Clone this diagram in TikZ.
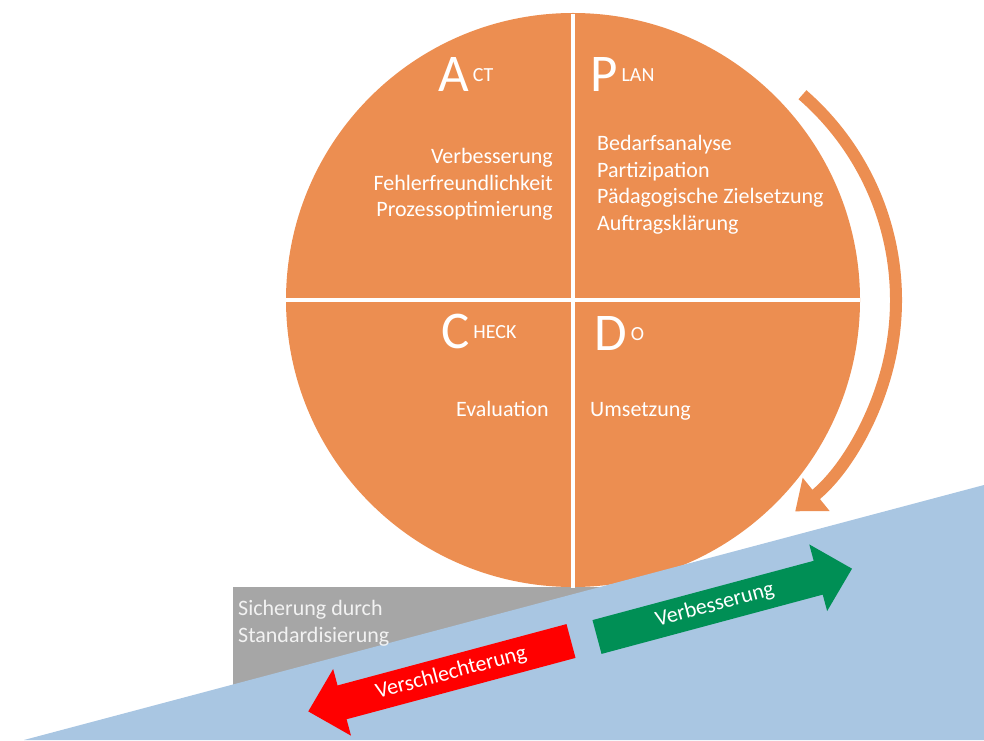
\documentclass[tikz,border=0pt]{standalone}
\usepackage{fontspec}
\setmainfont{Carlito}
\usetikzlibrary{arrows.meta}

\definecolor{pdcaorange}{RGB}{236,142,81}
\definecolor{pdcablue}{RGB}{169,198,226}
\definecolor{pdcagrey}{RGB}{166,166,166}
\definecolor{pdcalight}{RGB}{242,242,242}
\definecolor{pdcagreen}{RGB}{0,143,85}
\definecolor{pdcared}{RGB}{255,0,0}

\newcommand{\phasehead}[2]{{\fontsize{53}{53}\selectfont #1}\hspace{4pt}\raisebox{10pt}{\fontsize{20}{24}\selectfont #2}}

\begin{document}
\begin{tikzpicture}[x=1pt,y=1pt,
  head/.style={text=white,inner sep=0pt,anchor=base west},
  body/.style={text=white,inner sep=0pt,font=\fontsize{22}{26.5}\selectfont},
  divider/.style={white,line width=4pt},
  flowtext/.style={text=white,inner sep=0pt,font=\fontsize{22}{26}\selectfont,rotate=15}]
\useasboundingbox (0,0) rectangle (984,740);
% Sockel
\fill[pdcagrey] (233,40) rectangle (600,153);
% Kreis
\fill[pdcaorange] (573,440) circle (287);
\draw[divider] (573,726) -- (573,152);
\draw[divider] (286,440) -- (860,440);
% Ebene
\fill[pdcablue] (24,0) -- (984,255) -- (984,0) -- cycle;
\node[anchor=base west,text=pdcalight,inner sep=0pt,font=\fontsize{22}{26}\selectfont] (sicherung) at (238,125) {Sicherung durch};
\node[anchor=base west,text=pdcalight,inner sep=0pt,font=\fontsize{22}{26}\selectfont] (standard) at (238,98) {Standardisierung};
% Umlauf
\coordinate (cyclecenter) at (624,440);
\draw[pdcaorange,line width=12pt,-{Triangle[width=41pt,length=27pt]}] (cyclecenter) ++(49:272) arc[start angle=49,end angle=-51,radius=272];
% Phasen
\node[head] (act) at (438,648) {\phasehead{A}{CT}};
\node[head] (plan) at (590,648) {\phasehead{P}{LAN}};
\node[head] (check) at (441,392) {\phasehead{C}{HECK}};
\node[head] (do) at (594,390) {\phasehead{D}{O}};
\foreach \txt [count=\i] in {Verbesserung,Fehlerfreundlichkeit,Prozessoptimierung}
  \node[body,anchor=base east] (actitem\i) at (553,{576-26.5*(\i-1)}) {\txt};
\foreach \txt [count=\i] in {Bedarfsanalyse,Partizipation,Pädagogische Zielsetzung,Auftragsklärung}
  \node[body,anchor=base west] (planitem\i) at (597,{589-26.5*(\i-1)}) {\txt};
\node[body,anchor=base east] (checkitem) at (549,324) {Evaluation};
\node[body,anchor=base west] (doitem) at (590,324) {Umsetzung};
% Richtungspfeile
\begin{scope}[shift={(597,103)},rotate=15]
  \fill[pdcagreen] (0,17.5) -- (229,17.5) -- (229,34.5) -- (264,0) -- (229,-34.5) -- (229,-17.5) -- (0,-17.5) -- cycle;
  \node[flowtext] (besser) at (122,0) {Verbesserung};
\end{scope}
\begin{scope}[shift={(571,99)},rotate=195]
  \fill[pdcared] (0,17.5) -- (237,17.5) -- (237,34.5) -- (272,0) -- (237,-34.5) -- (237,-17.5) -- (0,-17.5) -- cycle;
  \node[flowtext] (schlechter) at (124,0) {Verschlechterung};
\end{scope}
\end{tikzpicture}
\end{document}
